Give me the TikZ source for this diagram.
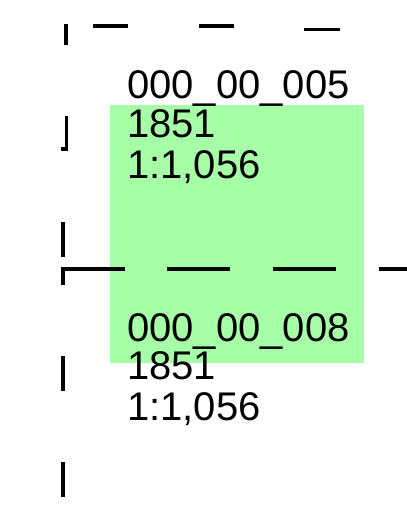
\documentclass[tikz,border=0pt]{standalone}
\usepackage{fontspec}
\setmainfont{Liberation Sans}
\definecolor{sheetgreen}{RGB}{166,255,166}
\begin{document}
\begin{tikzpicture}[x=1pt,y=-1pt,
  gridline/.style={line width=3.6pt,line cap=butt,line join=miter},
  lbl/.style={anchor=base west,inner sep=0pt,font=\fontsize{40}{40}\selectfont}]
\useasboundingbox (0,0) rectangle (407,507);
% green sheet
\fill[sheetgreen] (110,105) rectangle (364,363);
% top row of dashes
\draw[gridline] (93,26) -- (128,26);
\draw[gridline] (199,26) -- (234,26);
\draw[gridline] (304,29.5) -- (340,29.5);
% left column of dashes
\draw[gridline] (66,24) -- (66,45);
\draw[gridline] (66.5,116) -- (66.5,151);
\draw[gridline] (61,149.2) -- (65,149.2);
\draw[gridline] (63,222) -- (63,257);
\draw[gridline] (63,285) -- (63,269) -- (125,269);
\draw[gridline] (63,356) -- (63,391);
\draw[gridline] (63,462) -- (63,497);
% middle row of dashes
\draw[gridline] (167,269) -- (230,269);
\draw[gridline] (273,269) -- (336,269);
\draw[gridline] (379,269) -- (407,269);
% labels
\node[lbl] (a1) at (127,98) {000\_00\_005};
\node[lbl] (a2) at (127,137) {1851};
\node[lbl] (a3) at (127,178) {1:1,056};
\node[lbl] (b1) at (127,341) {000\_00\_008};
\node[lbl] (b2) at (127,379) {1851};
\node[lbl] (b3) at (127,420) {1:1,056};
\end{tikzpicture}
\end{document}
